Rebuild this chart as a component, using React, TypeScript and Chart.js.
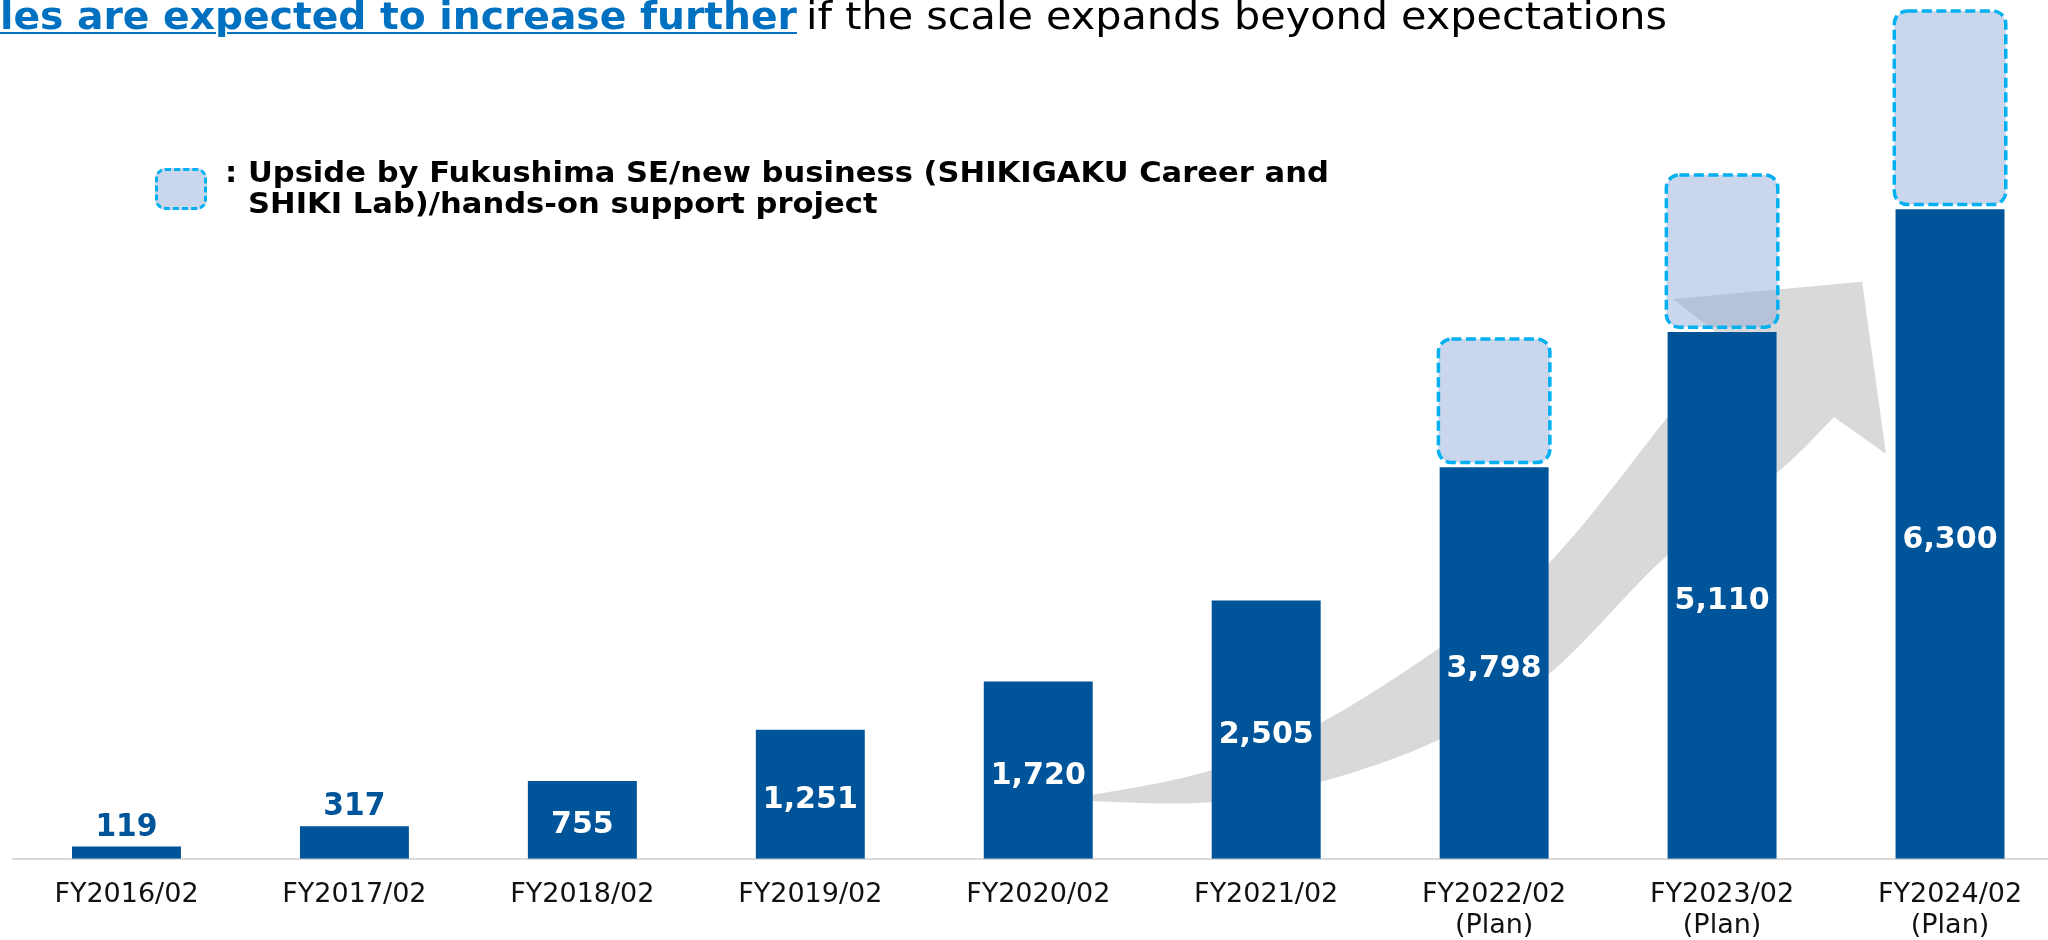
import React, { useEffect, useRef } from 'react';
import { Chart, registerables } from 'chart.js';

Chart.register(...registerables);

// ---- data ----
const categories: string[][] = [
  ['FY2016/02'],
  ['FY2017/02'],
  ['FY2018/02'],
  ['FY2019/02'],
  ['FY2020/02'],
  ['FY2021/02'],
  ['FY2022/02', '(Plan)'],
  ['FY2023/02', '(Plan)'],
  ['FY2024/02', '(Plan)'],
];
const netSales: number[] = [119, 317, 755, 1251, 1720, 2505, 3798, 5110, 6300];
const upside: (number | null)[] = [null, null, null, null, null, null, 1260, 1540, 1940];

const titleBlue = 'les are expected to increase further';
const titleRest = 'if the scale expands beyond expectations';
const legendLine1 = ': Upside by Fukushima SE/new business (SHIKIGAKU Career and';
const legendLine2 = 'SHIKI Lab)/hands-on support project';

// decorative growth arrow, in (category index, value) space
const arrowUpper: [number, number][] = [
  [4.095, 588], [4.24, 622], [4.758, 860], [5.236, 1316], [5.758, 2043],
  [6.236, 2858], [6.758, 4275], [7.026, 5012],
];
const arrowHead: [number, number][] = [
  [6.785, 5431], [7.614, 5596], [7.719, 3927], [7.491, 4286],
];
const arrowLower: [number, number][] = [
  [7.491, 4286], [7.236, 3735], [6.758, 2940], [6.236, 1785], [5.758, 1154],
  [5.236, 743], [4.758, 549], [4.24, 559], [4.095, 588],
];

const BAR = '#00559A';
const UPSIDE_FILL = 'rgba(143,168,215,0.47)';
const UPSIDE_STROKE = '#00B0F0';
const FONT = '"DejaVu Sans", Verdana, sans-serif';

function smoothThrough(ctx: CanvasRenderingContext2D, pts: { x: number; y: number }[]) {
  for (let i = 0; i < pts.length - 1; i++) {
    const p0 = pts[i - 1] || pts[i];
    const p1 = pts[i];
    const p2 = pts[i + 1];
    const p3 = pts[i + 2] || p2;
    const c1x = p1.x + (p2.x - p0.x) / 6;
    const c1y = p1.y + (p2.y - p0.y) / 6;
    const c2x = p2.x - (p3.x - p1.x) / 6;
    const c2y = p2.y - (p3.y - p1.y) / 6;
    ctx.bezierCurveTo(c1x, c1y, c2x, c2y, p2.x, p2.y);
  }
}

const arrowPlugin = {
  id: 'growthArrow',
  beforeDatasetsDraw(chart: any) {
    const { ctx } = chart;
    const xs = chart.scales.x;
    const ys = chart.scales.y;
    const p0 = xs.getPixelForValue(0);
    const step = xs.getPixelForValue(1) - p0;
    const map = (p: [number, number]) => ({ x: p0 + p[0] * step, y: ys.getPixelForValue(p[1]) });
    const up = arrowUpper.map(map);
    const head = arrowHead.map(map);
    const low = arrowLower.map(map);
    ctx.save();
    ctx.fillStyle = '#D9D9D9';
    ctx.beginPath();
    ctx.moveTo(up[0].x, up[0].y);
    smoothThrough(ctx, up);
    head.forEach((p) => ctx.lineTo(p.x, p.y));
    smoothThrough(ctx, low);
    ctx.closePath();
    ctx.fill();
    ctx.restore();
  },
};

const labelPlugin = {
  id: 'valueLabels',
  afterDatasetsDraw(chart: any) {
    const { ctx } = chart;
    ctx.save();
    // upside boxes
    const meta1 = chart.getDatasetMeta(1);
    const lw = 3.5;
    meta1.data.forEach((el: any, i: number) => {
      if (upside[i] == null) return;
      const left = el.x - el.width / 2 - 3;
      const right = el.x + el.width / 2 + 3;
      const top = el.y;
      const bottom = el.base - 3;
      ctx.beginPath();
      ctx.roundRect(left + lw / 2, top + lw / 2, right - left - lw, bottom - top - lw, 13);
      ctx.fillStyle = UPSIDE_FILL;
      ctx.fill();
      ctx.setLineDash([10, 4.5]);
      ctx.lineWidth = lw;
      ctx.strokeStyle = UPSIDE_STROKE;
      ctx.stroke();
    });
    ctx.setLineDash([]);
    // value labels
    const meta0 = chart.getDatasetMeta(0);
    ctx.textAlign = 'center';
    ctx.textBaseline = 'alphabetic';
    meta0.data.forEach((el: any, i: number) => {
      const txt = netSales[i].toLocaleString('en-US');
      const h = el.base - el.y;
      ctx.save();
      ctx.translate(el.x, 0);
      if (h < 45) {
        ctx.font = `bold 32px ${FONT}`;
        ctx.scale(0.93, 1);
        ctx.fillStyle = BAR;
        ctx.fillText(txt, 0, el.y - 11);
      } else {
        ctx.font = `bold 31px ${FONT}`;
        ctx.scale(0.97, 1);
        ctx.fillStyle = '#FFFFFF';
        ctx.fillText(txt, 0, (el.y + el.base) / 2 + 13.5);
      }
      ctx.restore();
    });
    ctx.restore();
  },
};

const textBase: React.CSSProperties = {
  position: 'absolute',
  whiteSpace: 'nowrap',
  fontFamily: FONT,
  transformOrigin: 'left top',
};

export default function App() {
  const canvasRef = useRef<HTMLCanvasElement | null>(null);

  useEffect(() => {
    const canvas = canvasRef.current;
    if (!canvas) return;
    const chart = new Chart(canvas, {
      type: 'bar',
      data: {
        labels: categories as any,
        datasets: [
          {
            label: 'Net sales',
            data: netSales,
            backgroundColor: BAR,
            stack: 's',
            barPercentage: 0.478,
            categoryPercentage: 1,
          },
          {
            label: 'Upside',
            data: upside as any,
            backgroundColor: 'rgba(0,0,0,0)',
            stack: 's',
            barPercentage: 0.478,
            categoryPercentage: 1,
          },
        ],
      },
      options: {
        responsive: false,
        animation: false,
        devicePixelRatio: 1,
        layout: { padding: { left: 12.5, right: 0, top: 0, bottom: 0 } },
        plugins: {
          legend: { display: false },
          tooltip: { enabled: false },
          title: { display: false },
        },
        scales: {
          x: {
            stacked: true,
            grid: { display: false, drawTicks: false, tickLength: 0 },
            border: { display: true, color: '#D9D9D9', width: 2 },
            ticks: {
              font: { family: FONT, size: 27, lineHeight: 1.17 },
              color: '#111111',
              padding: 20,
              maxRotation: 0,
              autoSkip: false,
            },
          },
          y: { stacked: true, display: false, min: 0, max: 8330 },
        },
      } as any,
      plugins: [arrowPlugin, labelPlugin],
    });
    return () => chart.destroy();
  }, []);

  return (
    <div
      style={{
        position: 'fixed',
        left: 0,
        top: 0,
        width: 2048,
        height: 940,
        overflow: 'hidden',
        background: '#FFFFFF',
      }}
    >
      <canvas
        ref={canvasRef}
        width={2064}
        height={962}
        style={{ position: 'absolute', left: 0, top: 0 }}
      />
      <div
        style={{
          ...textBase,
          left: 0,
          top: -2.3,
          fontSize: 37,
          lineHeight: '37px',
          fontWeight: 'bold',
          color: '#0070C0',
          textDecoration: 'underline',
          textDecorationThickness: '2px',
          textUnderlineOffset: '3px',
          transform: 'scaleX(1.06)',
        }}
      >
        {titleBlue}
      </div>
      <div
        style={{
          ...textBase,
          left: 806,
          top: -2.3,
          fontSize: 37,
          lineHeight: '37px',
          color: '#000000',
          transform: 'scaleX(1.118)',
        }}
      >
        {titleRest}
      </div>
      <div
        style={{
          position: 'absolute',
          left: 155,
          top: 168,
          width: 52,
          height: 42,
          boxSizing: 'border-box',
          border: `3.5px dashed ${UPSIDE_STROKE}`,
          borderRadius: 10,
          background: '#CAD6EC',
        }}
      />
      <div
        style={{
          ...textBase,
          left: 225,
          top: 156.5,
          fontWeight: 'bold',
          fontSize: 29,
          lineHeight: '31px',
          color: '#000000',
          transform: 'scaleX(1.055)',
        }}
      >
        {legendLine1}
      </div>
      <div
        style={{
          ...textBase,
          left: 248,
          top: 187.5,
          fontWeight: 'bold',
          fontSize: 29,
          lineHeight: '31px',
          color: '#000000',
          transform: 'scaleX(1.055)',
        }}
      >
        {legendLine2}
      </div>
    </div>
  );
}
